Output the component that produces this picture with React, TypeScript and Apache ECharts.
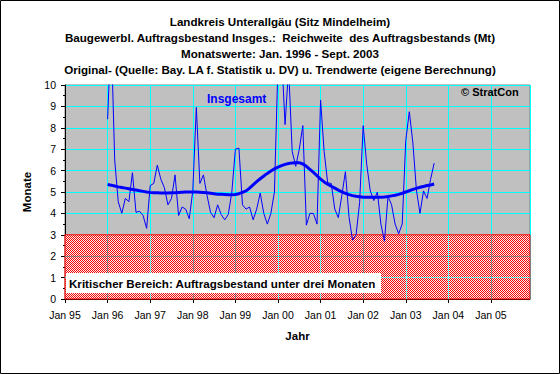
import React, { useEffect, useRef } from "react";
import * as echarts from "echarts";

const titleLines = [
  "Landkreis Unterallgäu (Sitz Mindelheim)",
  "Baugewerbl. Auftragsbestand Insges.:  Reichweite  des Auftragsbestands (Mt)",
  "Monatswerte: Jan. 1996 - Sept. 2003",
  "Original- (Quelle: Bay. LA f. Statistik u. DV) u. Trendwerte (eigene Berechnung)",
];

// x axis: months since Jan 1995; one label per January
const yearLabels = ["95", "96", "97", "98", "99", "00", "01", "02", "03", "04", "05"];
const axisMaxMonth = 131;
const firstMonth = 12; // Jan 1996

// Monthly original values, Jan 1996 .. Sep 2003
const originalValues = [
  8.4, 12.5, 6.5, 4.55, 4.0, 4.7, 4.55, 5.9, 4.05, 4.1, 3.9, 3.3,
  5.3, 5.4, 6.25, 5.6, 5.2, 4.4, 4.7, 5.8, 3.9, 4.3, 4.2, 3.75,
  5.05, 8.95, 5.4, 5.8, 4.85, 4.05, 3.8, 4.4, 3.95, 3.7, 3.95, 5.0,
  7.0, 7.05, 4.4, 4.2, 4.3, 3.7, 4.2, 4.95, 4.0, 3.5, 4.0, 5.0,
  11.0, 11.5, 8.15, 10.8, 6.9, 6.2, 7.0, 8.1, 3.45, 4.0, 4.0, 3.5,
  9.3, 6.9, 5.43, 5.4, 4.2, 3.8, 4.85, 5.95, 3.85, 2.75, 3.0, 4.5,
  8.1, 6.3, 5.05, 4.6, 5.0, 3.5, 2.7, 4.8, 4.4, 3.5, 3.05, 3.5,
  7.4, 8.75, 7.3, 5.1, 4.0, 5.05, 4.7, 5.6, 6.35,
];

// Monthly trend values, Jan 1996 .. Sep 2003
const trendValues = [
  5.35, 5.32, 5.28, 5.24, 5.21, 5.18, 5.15, 5.12, 5.09, 5.06, 5.03, 5.0,
  4.98, 4.97, 4.96, 4.95, 4.95, 4.95, 4.96, 4.97, 4.98, 4.99, 5.0, 5.0,
  5.0, 5.0, 4.99, 4.98, 4.96, 4.94, 4.92, 4.9, 4.89, 4.88, 4.87, 4.87,
  4.88, 4.92, 4.98, 5.05, 5.18, 5.33, 5.48, 5.62, 5.75, 5.87, 5.98, 6.08,
  6.16, 6.23, 6.29, 6.33, 6.36, 6.37, 6.37, 6.31, 6.2, 6.06, 5.92, 5.76,
  5.6, 5.47, 5.36, 5.27, 5.18, 5.09, 5.01, 4.94, 4.88, 4.83, 4.8, 4.78,
  4.76, 4.75, 4.75, 4.75, 4.75, 4.76, 4.77, 4.79, 4.82, 4.85, 4.89, 4.94,
  5.0, 5.06, 5.12, 5.17, 5.22, 5.26, 5.3, 5.33, 5.37,
];

const criticalLimit = 3;
const criticalLabel = "Kritischer Bereich: Auftragsbestand unter drei Monaten";
const seriesLabel = "Insgesamt";
const copyrightLabel = "© StratCon";

const FONT = '"Liberation Sans", Arial, sans-serif';

function makeChecker() {
  const cv = document.createElement("canvas");
  cv.width = 2;
  cv.height = 2;
  const ctx = cv.getContext("2d")!;
  ctx.fillStyle = "rgba(255,255,255,0.8)";
  ctx.fillRect(0, 0, 2, 2);
  ctx.fillStyle = "#ff0000";
  ctx.fillRect(0, 0, 1, 1);
  ctx.fillRect(1, 1, 1, 1);
  return cv;
}

export default function App() {
  const ref = useRef<HTMLDivElement>(null);
  useEffect(() => {
    if (!ref.current) return;
    const chart = echarts.init(ref.current, null, { renderer: "svg" });
    const original = originalValues.map((v, i) => [firstMonth + i, v]);
    const trend = trendValues.map((v, i) => [firstMonth + i, v]);

    // faint gridlines showing through the critical (hatched) zone
    const zoneGrid: any[] = [];
    for (let k = 1; k < yearLabels.length; k++) {
      zoneGrid.push([{ coord: [k * 12, 0] }, { coord: [k * 12, criticalLimit] }]);
    }
    for (let y = 1; y < criticalLimit; y++) {
      zoneGrid.push([{ coord: [0, y] }, { coord: [axisMaxMonth, y] }]);
    }

    const titleGraphics = titleLines.map((t, i) => ({
      type: "text",
      x: 280,
      y: 21 + i * 16,
      style: {
        text: t,
        font: `bold 11.6px ${FONT}`,
        fill: "#000",
        align: "center",
        verticalAlign: "middle",
      },
    }));
    chart.setOption({
      animation: false,
      backgroundColor: "#ffffff",
      grid: {
        left: 65,
        top: 85,
        width: 465,
        height: 214,
        show: true,
        backgroundColor: "#c0c0c0",
        borderColor: "#808080",
        borderWidth: 1,
      },
      xAxis: {
        type: "value",
        min: 0,
        max: axisMaxMonth,
        interval: 12,
        name: "Jahr",
        nameLocation: "middle",
        nameGap: 31,
        nameTextStyle: { fontFamily: FONT, fontWeight: "bold", fontSize: 11.5, color: "#000" },
        axisLine: { show: true, lineStyle: { color: "#000", width: 1 } },
        axisTick: { show: true, length: 4, lineStyle: { color: "#000" } },
        axisLabel: {
          color: "#000",
          fontFamily: FONT,
          fontSize: 10.5,
          margin: 10,
          showMaxLabel: false,
          formatter: (v: number) => (v % 12 === 0 ? "Jan " + yearLabels[v / 12] : ""),
        },
        splitLine: { show: true, lineStyle: { color: "#00ffff", width: 1 } },
      },
      yAxis: {
        type: "value",
        min: 0,
        max: 10,
        interval: 1,
        name: "Monate",
        nameLocation: "middle",
        nameGap: 27,
        nameTextStyle: { fontFamily: FONT, fontWeight: "bold", fontSize: 11.5, color: "#000" },
        axisLine: { show: true, lineStyle: { color: "#000", width: 1 } },
        axisTick: { show: true, length: 4, lineStyle: { color: "#000" } },
        minorTick: { show: true, splitNumber: 2, length: 2, lineStyle: { color: "#000" } },
        axisLabel: { color: "#000", fontFamily: FONT, fontSize: 10.5, margin: 9 },
        splitLine: { show: true, lineStyle: { color: "#00ffff", width: 1 } },
      },
      series: [
        {
          type: "line",
          name: "critical",
          data: [],
          z: 1,
          silent: true,
          markArea: {
            silent: true,
            itemStyle: {
              color: { image: makeChecker(), repeat: "repeat" },
              borderColor: "#ff0000",
              borderWidth: 1,
            },
            data: [[{ xAxis: 0, yAxis: 0 }, { xAxis: axisMaxMonth, yAxis: criticalLimit }]],
          },
          markLine: {
            silent: true,
            symbol: "none",
            label: { show: false },
            lineStyle: { color: "#00ffff", width: 1, type: [1, 1], opacity: 0.8 },
            data: zoneGrid,
          },
        },
        {
          type: "line",
          name: "Original",
          data: original,
          z: 3,
          showSymbol: false,
          symbol: "none",
          lineStyle: { color: "#0000ff", width: 1 },
          itemStyle: { color: "#0000ff" },
        },
        {
          type: "line",
          name: "Trend",
          data: trend,
          z: 4,
          showSymbol: false,
          symbol: "none",
          lineStyle: { color: "#0000ff", width: 3 },
          itemStyle: { color: "#0000ff" },
        },
      ],
      graphic: [
        ...titleGraphics,
        {
          type: "text",
          x: 207,
          y: 99,
          z: 10,
          style: { text: seriesLabel, font: `bold 12px ${FONT}`, fill: "#0000ff", align: "left", verticalAlign: "middle" },
        },
        {
          type: "text",
          x: 461,
          y: 92,
          z: 10,
          style: { text: copyrightLabel, font: `bold 11px ${FONT}`, fill: "#000", align: "left", verticalAlign: "middle" },
        },
        {
          type: "rect",
          z: 10,
          shape: { x: 66, y: 273, width: 315, height: 20 },
          style: { fill: "#ffffff" },
        },
        {
          type: "text",
          x: 69,
          y: 283,
          z: 11,
          style: { text: criticalLabel, font: `bold 11.6px ${FONT}`, fill: "#000", align: "left", verticalAlign: "middle" },
        },
        {
          type: "rect",
          z: 20,
          shape: { x: 0.5, y: 0.5, width: 559, height: 373 },
          style: { fill: "none", stroke: "#000", lineWidth: 1 },
        },
      ],
    });
    return () => chart.dispose();
  }, []);
  return (
    <div
      ref={ref}
      style={{ position: "absolute", left: 0, top: 0, width: 560, height: 374 }}
    />
  );
}
